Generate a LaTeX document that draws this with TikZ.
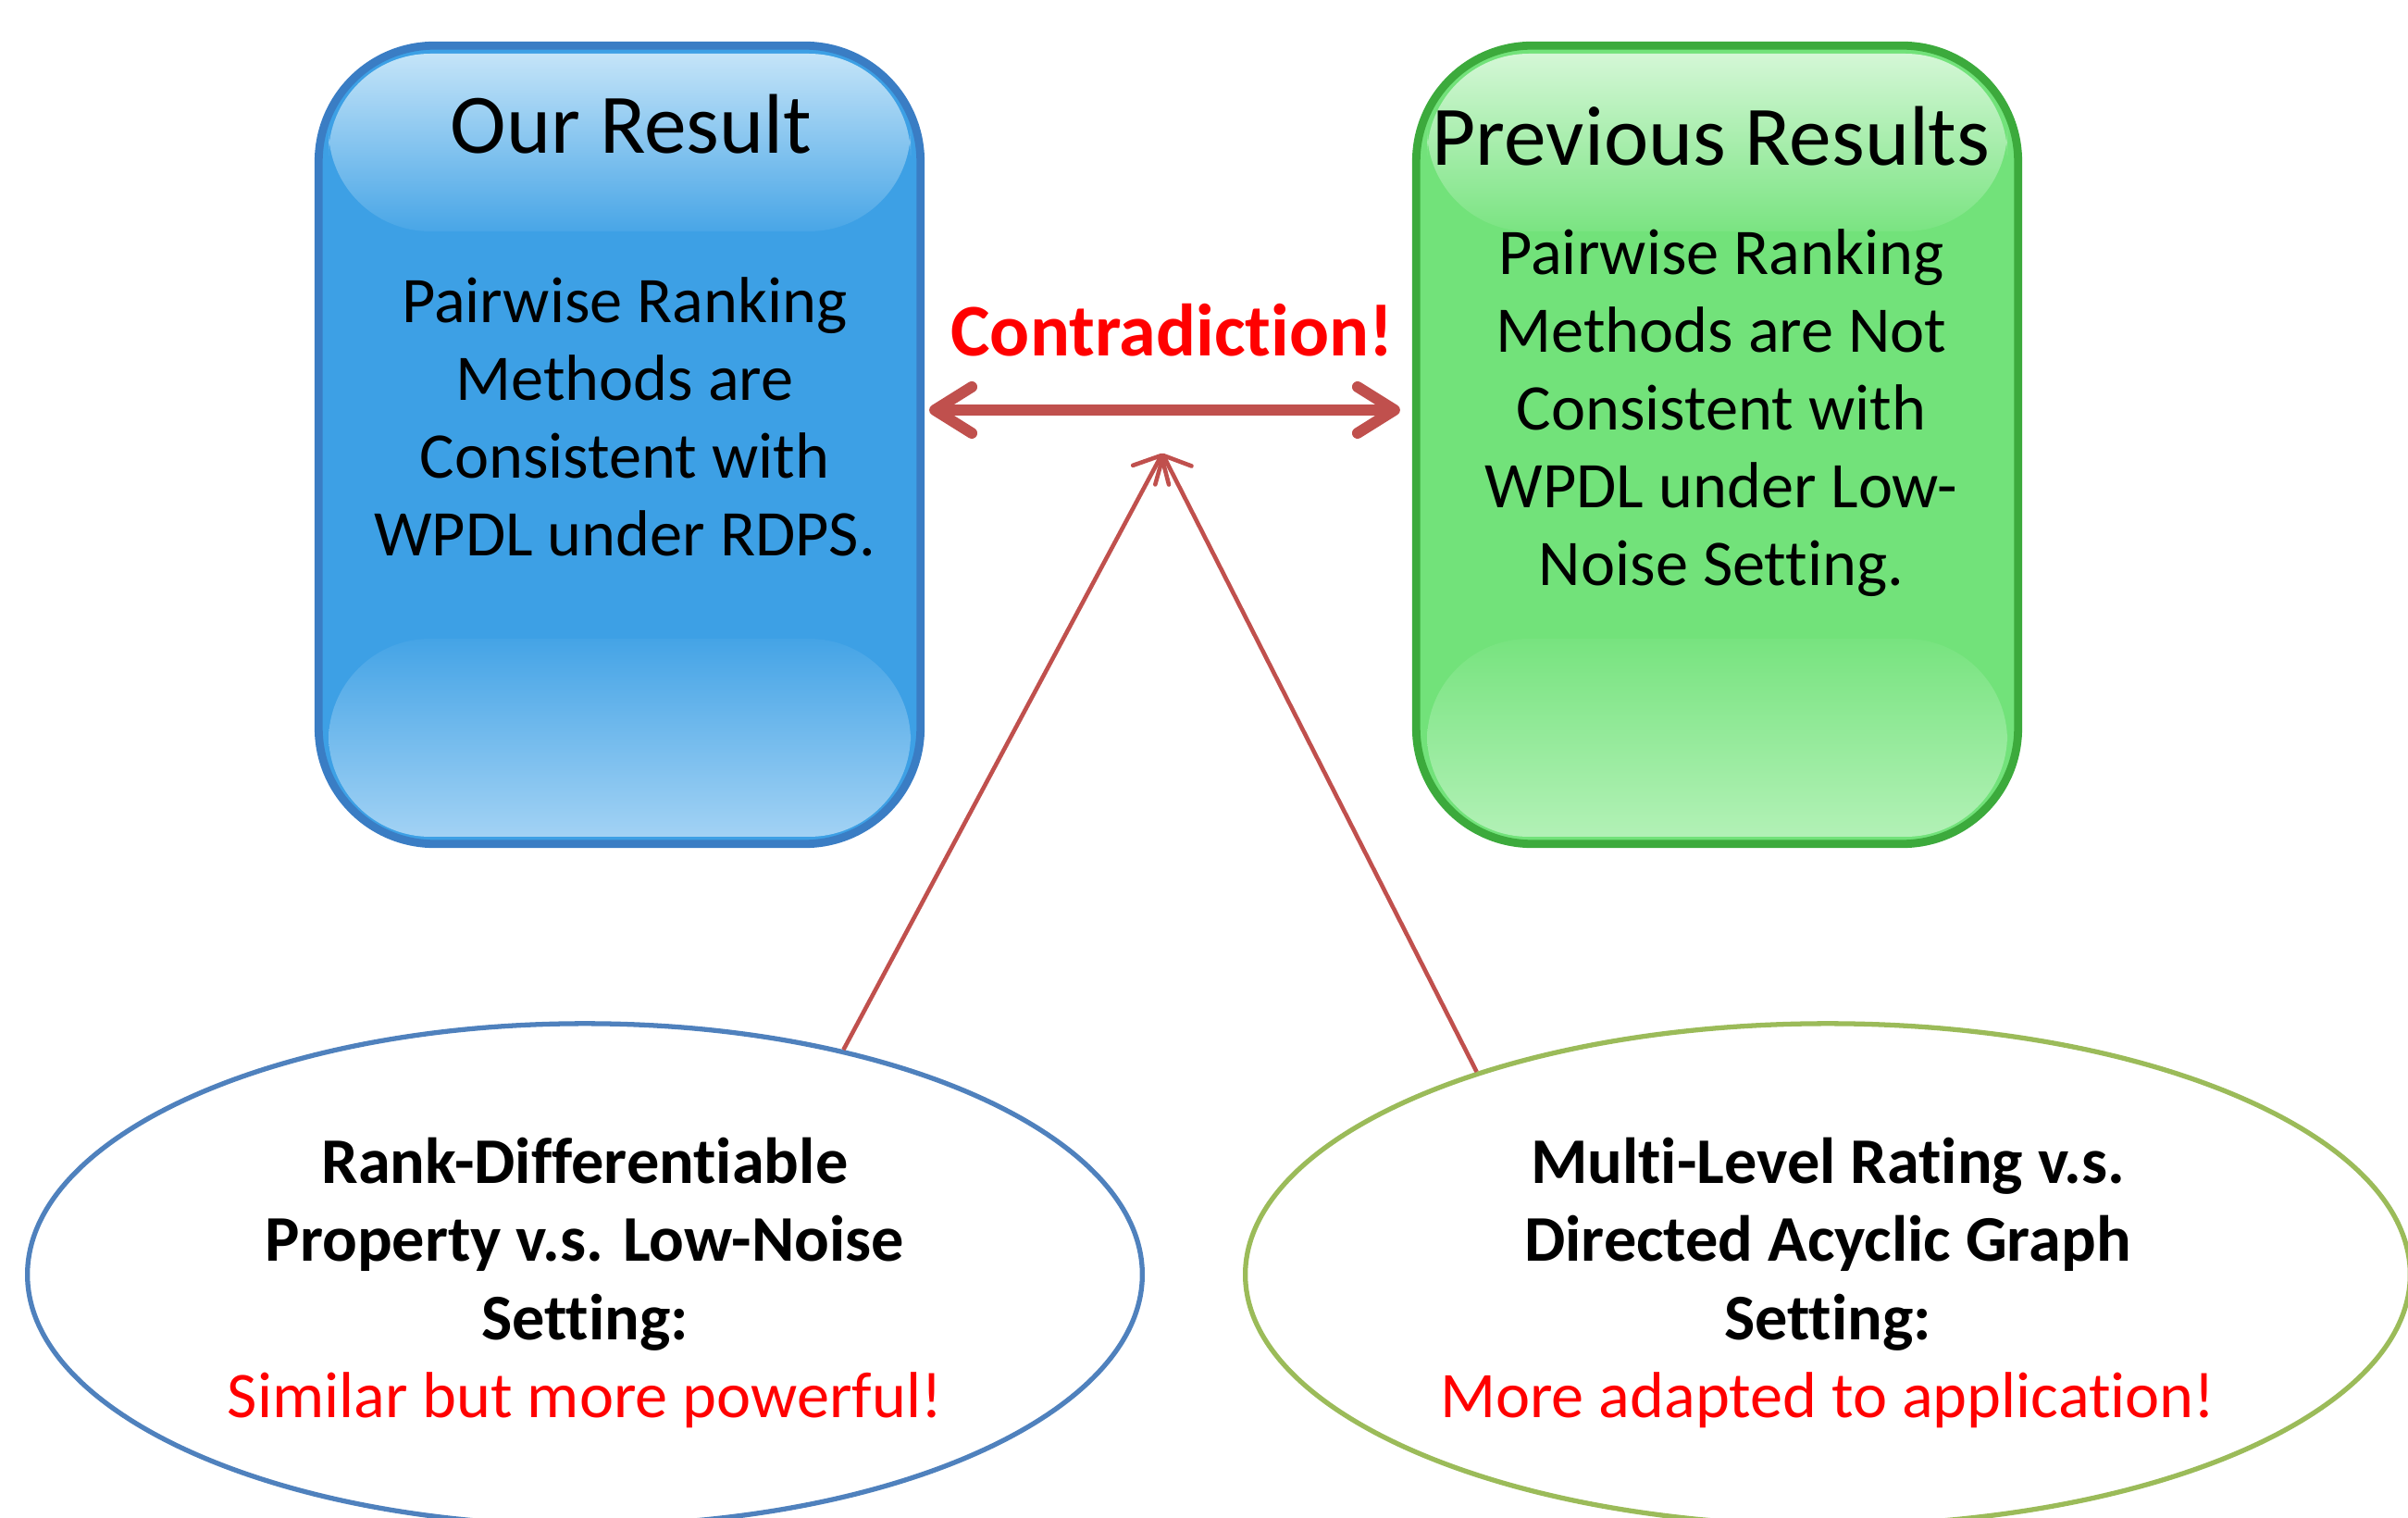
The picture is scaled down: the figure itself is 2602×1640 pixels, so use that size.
\documentclass[tikz,border=0pt]{standalone}
\usepackage{fontspec}
\setmainfont[Ligatures=TeX, RawFeature={-liga;-clig;-calt;-dlig}]{Carlito}
\usetikzlibrary{shapes.geometric,positioning,arrows.meta}
\definecolor{ourfill}{HTML}{3DA0E5}
\definecolor{ourline}{HTML}{3A7DC4}
\definecolor{ourhi}{HTML}{C4E4F8}
\definecolor{ourlo}{HTML}{A2D2F4}
\definecolor{prevfill}{HTML}{72E27A}
\definecolor{prevline}{HTML}{3CAA3C}
\definecolor{prevhi}{HTML}{D4F7D6}
\definecolor{prevlo}{HTML}{B2F1B6}
\definecolor{linkred}{HTML}{C0504D}
\definecolor{ellblue}{HTML}{4F81BD}
\definecolor{ellgreen}{HTML}{9BBB59}

\begin{document}
\begin{tikzpicture}[
    x=0.01cm, y=-0.01cm,
    resbox/.style={rectangle, rounded corners=12.5mm, line width=2.5pt,
        minimum width=6.5cm, minimum height=8.62cm, inner sep=0pt},
    gloss/.style={rounded corners=11mm},
    boxtitle/.style={anchor=base, font=\fontsize{26}{31}\selectfont},
    boxtext/.style={align=center, font=\fontsize{20}{23.9}\selectfont},
    setting/.style={ellipse, line width=1.5pt, minimum height=5.42cm, inner sep=0pt},
    dblarrow/.style={<->, draw=linkred, line width=3.4pt,
        >={Straight Barb[length=4mm,width=5mm,round]}},
    link/.style={->, draw=linkred, line width=1.3pt,
        >={Straight Barb[length=2.4mm,width=4.4mm,round]}}
]
\useasboundingbox (0,0) rectangle (2602,1640);

\node[resbox, draw=ourline, fill=ourfill] (our) at (669.5,480.5) {};
\node[resbox, draw=prevline, fill=prevfill] (prev) at (1855.5,480.5) {};

\shade[gloss, top color=ourhi, bottom color=ourfill!94!white] (355,58) rectangle (984,250);
\shade[gloss, top color=ourfill!96!white, bottom color=ourlo] (355,690) rectangle (984,904);
\shade[gloss, top color=prevhi, bottom color=prevfill!94!white] (1542,58) rectangle (2169,250);
\shade[gloss, top color=prevfill!96!white, bottom color=prevlo] (1542,690) rectangle (2169,904);

\node[boxtitle] (ourT) at (682,166) {Our Result};
\node[boxtext] (ourB) at (675,450) {Pairwise Ranking\\Methods are\\Consistent with\\WPDL under RDPS.};
\node[boxtitle] (prevT) at (1849,179) {Previous Results};
\node[boxtext] (prevB) at (1860,446) {Pairwise Ranking\\Methods are Not\\Consistent with\\WPDL under Low-\\Noise Setting.};

\draw[dblarrow] ([xshift=0.5mm,yshift=3.75mm]our.east) -- node[above=5.8mm, xshift=0.8mm, inner sep=0pt, anchor=base,
    text=red, font=\fontsize{22.8}{26}\selectfont\bfseries] (contra) {Contradiction!}
    ([xshift=-1.3mm,yshift=3.75mm]prev.west);

\node[setting, draw=ellblue, minimum width=12.04cm] (rdp) at (632,1377) {};
\node[setting, draw=ellgreen, minimum width=12.58cm] (mlr) at (1975,1377) {};
\node[boxtext] (rdpT) at (632,1386)
    {\textbf{Rank-Differentiable}\\\textbf{Property v.s. Low-Noise}\\\textbf{Setting:}\\\textcolor{red}{Similar but more powerful!}};
\node[boxtext] (mlrT) at (1975,1386)
    {\textbf{Multi-Level Rating v.s.}\\\textbf{Directed Acyclic Graph}\\\textbf{Setting:}\\\textcolor{red}{More adapted to application!}};

\coordinate (apex) at (1256,490);
\draw[link] (rdp.41) -- (apex);
\draw[link] (mlr.150) -- (apex);
\end{tikzpicture}
\end{document}
